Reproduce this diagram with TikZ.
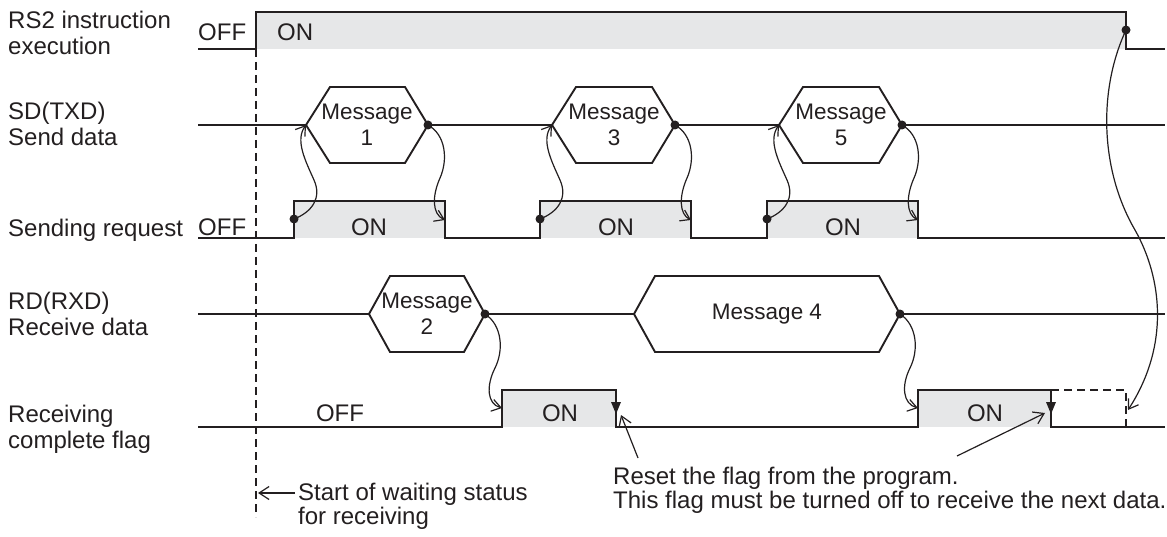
\documentclass[tikz,border=0pt]{standalone}
\usepackage{fontspec}
\setmainfont{Liberation Sans}
\usetikzlibrary{arrows.meta}
\definecolor{ink}{HTML}{231F20}
\definecolor{greyfill}{HTML}{E6E7E8}
\begin{document}
\begin{tikzpicture}[x=1pt,y=-1pt,
  sig/.style={draw=ink,line width=1.9pt,line join=miter},
  hexa/.style={draw=ink,line width=1.9pt,line join=miter},
  wave/.style={draw=ink,line width=1.2pt,-{Straight Barb[length=9pt,width=12pt]}},
  notearrow/.style={draw=ink,line width=1.2pt,-{Straight Barb[length=10pt,width=13pt]}},
  dashline/.style={draw=ink,line width=1.3pt,dash pattern=on 8pt off 5pt},
  txt/.style={text=ink,inner sep=0pt,font=\fontsize{24}{26}\selectfont},
  msg/.style={text=ink,inner sep=0pt,align=center,font=\fontsize{22.5}{26}\selectfont},
  dotmark/.style={circle,fill=ink,inner sep=0pt,minimum size=9pt}
]
\useasboundingbox (0,0) rectangle (1167,537);

% ---------- left labels ----------
\node[txt,anchor=base west] (l1a) at (8,29) {RS2 instruction};
\node[txt,anchor=base west] (l1b) at (8,55) {execution};
\node[txt,anchor=base west] (l2a) at (8,120) {SD(TXD)};
\node[txt,anchor=base west] (l2b) at (8,146) {Send data};
\node[txt,anchor=base west] (l3) at (8,237) {Sending request};
\node[txt,anchor=base west] (l4a) at (8,309) {RD(RXD)};
\node[txt,anchor=base west] (l4b) at (8,335) {Receive data};
\node[txt,anchor=base west] (l5a) at (8,422) {Receiving};
\node[txt,anchor=base west] (l5b) at (8,448) {complete flag};

% ---------- fills ----------
\fill[greyfill] (256,12) rectangle (1126,49);
\fill[greyfill] (294,201) rectangle (445,238);
\fill[greyfill] (540,201) rectangle (691,238);
\fill[greyfill] (767,201) rectangle (918,238);
\fill[greyfill] (502,390) rectangle (616,427);
\fill[greyfill] (918,390) rectangle (1051,427);

% ---------- RS2 execution ----------
\draw[sig] (198,49) -- (256,49) -- (256,12) -- (1126,12) -- (1126,49) -- (1165,49);
\node[txt,anchor=base west] (rsoff) at (198,41) {OFF};
\node[txt,anchor=base west] (rson) at (277,41) {ON};

% waiting-start dashed marker
\coordinate (w0) at (256,49);
\coordinate (w1) at (256,517);
\draw[dashline] (w0) -- (w1);

% ---------- SD(TXD) ----------
\coordinate (m1L) at (306,125); \coordinate (m1R) at (428,125);
\coordinate (m3L) at (552,125); \coordinate (m3R) at (675,125);
\coordinate (m5L) at (779,125); \coordinate (m5R) at (902,125);
\draw[sig] (198,125) -- (m1L);
\draw[sig] (m1R) -- (m3L);
\draw[sig] (m3R) -- (m5L);
\draw[sig] (m5R) -- (1165,125);
\draw[hexa] (306,125) -- (330,87) -- (405,87) -- (428,125) -- (405,163) -- (330,163) -- cycle;
\draw[hexa] (552,125) -- (576,87) -- (652,87) -- (675,125) -- (652,163) -- (576,163) -- cycle;
\draw[hexa] (779,125) -- (803,87) -- (879,87) -- (902,125) -- (879,163) -- (803,163) -- cycle;
\node[msg] (m1) at (367,125) {Message\\1};
\node[msg] (m3) at (614,125) {Message\\3};
\node[msg] (m5) at (841,125) {Message\\5};

% ---------- Sending request ----------
\draw[sig] (198,238) -- (294,238) -- (294,201) -- (445,201) -- (445,238) -- (540,238) -- (540,201) -- (691,201) -- (691,238) -- (767,238) -- (767,201) -- (918,201) -- (918,238) -- (1165,238);
\node[txt,anchor=base west] (sroff) at (198,236) {OFF};
\node[txt,anchor=base] (son1) at (369,236) {ON};
\node[txt,anchor=base] (son2) at (616,236) {ON};
\node[txt,anchor=base] (son3) at (843,236) {ON};
\coordinate (r1) at (294,219); \coordinate (f1) at (445,220);
\coordinate (r3) at (540,219); \coordinate (f3) at (691,220);
\coordinate (r5) at (767,219); \coordinate (f5) at (918,220);

% ---------- RD(RXD) ----------
\coordinate (m2L) at (369,314); \coordinate (m2R) at (485,314);
\coordinate (m4L) at (634,314); \coordinate (m4R) at (900,314);
\draw[sig] (198,314) -- (m2L);
\draw[sig] (m2R) -- (m4L);
\draw[sig] (m4R) -- (1165,314);
\draw[hexa] (369,314) -- (390,276) -- (464,276) -- (485,314) -- (464,352) -- (390,352) -- cycle;
\draw[hexa] (634,314) -- (655,276) -- (879,276) -- (900,314) -- (879,352) -- (655,352) -- cycle;
\node[msg] (m2) at (427,314) {Message\\2};
\node[msg] (m4) at (767,314) {Message 4};

% ---------- Receiving complete flag ----------
\draw[sig] (198,427) -- (502,427) -- (502,390) -- (616,390) -- (616,427) -- (918,427) -- (918,390) -- (1051,390) -- (1051,427) -- (1165,427);
\draw[dashline] (1051,390) -- (1126,390) -- (1126,427);
\fill[ink] (611,402) -- (621,402) -- (616,414) -- cycle;
\fill[ink] (1046,402) -- (1056,402) -- (1051,414) -- cycle;
\node[txt,anchor=base] (foff) at (340,421) {OFF};
\node[txt,anchor=base] (fon1) at (560,421) {ON};
\node[txt,anchor=base] (fon2) at (985,421) {ON};
\coordinate (g1) at (502,408);
\coordinate (g2) at (918,408);
\coordinate (h1) at (621,415);
\coordinate (h2) at (1045,413);
\coordinate (rsdot) at (1126,30);
\coordinate (dashend) at (1128,410);

% ---------- wavy connectors ----------
\draw[wave] (r1) .. controls (312,212) and (322,198) .. (314,180) .. controls (305,160) and (295,140) .. (m1L);
\draw[wave] (r3) .. controls (558,212) and (568,198) .. (560,180) .. controls (551,160) and (541,140) .. (m3L);
\draw[wave] (r5) .. controls (785,212) and (795,198) .. (787,180) .. controls (778,160) and (768,140) .. (m5L);
\draw[wave] (m1R) .. controls (446,135) and (448,160) .. (440,178) .. controls (432,196) and (432,214) .. (f1);
\draw[wave] (m3R) .. controls (693,135) and (695,160) .. (687,178) .. controls (679,196) and (679,214) .. (f3);
\draw[wave] (m5R) .. controls (920,135) and (922,160) .. (914,178) .. controls (906,196) and (906,214) .. (f5);
\draw[wave] (m2R) .. controls (502,325) and (504,350) .. (495,368) .. controls (486,386) and (487,404) .. (g1);
\draw[wave] (m4R) .. controls (917,325) and (919,350) .. (910,368) .. controls (901,386) and (903,404) .. (g2);
\draw[wave] (rsdot) .. controls (1098,90) and (1100,170) .. (1135,230) .. controls (1162,278) and (1170,345) .. (dashend);

% ---------- dots ----------
\foreach \p in {r1,r3,r5,m1R,m3R,m5R,m2R,m4R,rsdot}
  \node[dotmark] at (\p) {};

% ---------- notes ----------
\node[txt,anchor=base west] (n1) at (613,484) {Reset the flag from the program.};
\node[txt,anchor=base west] (n2) at (613,508) {This flag must be turned off to receive the next data.};
\coordinate (n1a) at (638,458);
\coordinate (n1b) at (957,456);
\draw[notearrow] (n1a) -- (h1);
\draw[notearrow] (n1b) -- (h2);

\node[txt,anchor=base west] (s1) at (298,500) {Start of waiting status};
\node[txt,anchor=base west] (s2) at (298,524) {for receiving};
\coordinate (s0) at (295,493);
\coordinate (sw) at (258,493);
\draw[notearrow] (s0) -- (sw);
\end{tikzpicture}
\end{document}
